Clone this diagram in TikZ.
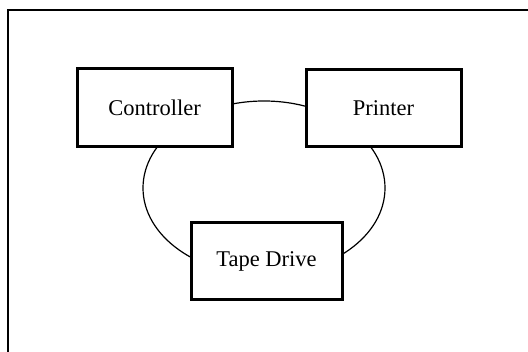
\documentclass[tikz,border=0pt]{standalone}
\usepackage{fontspec}
\setmainfont{Liberation Serif}
\begin{document}
\begin{tikzpicture}[x=1pt,y=-1pt,
  unitbox/.style={draw=black, line width=3pt, fill=white, rectangle, inner sep=0pt,
    font=\fontsize{22.5}{26}\selectfont, anchor=center},
  ring/.style={draw=black, line width=1.2pt},
  frameline/.style={draw=black, line width=2pt}]
\useasboundingbox (0,0) rectangle (528,352);
% outer frame (only top and left edges visible)
\coordinate (fbl) at (8,353);
\coordinate (ftl) at (8,10);
\coordinate (ftr) at (529,10);
\draw[frameline] (fbl) -- (ftl) -- (ftr);
% ring
\coordinate (rc) at (264,188);
\draw[ring] (rc) ellipse [x radius=121pt, y radius=87pt];
% units
\node[unitbox, minimum width=155pt, minimum height=78pt] (ctrl) at (154.5,108) {Controller};
\node[unitbox, minimum width=155pt, minimum height=77pt] (prn) at (383.5,108.5) {Printer};
\node[unitbox, minimum width=151pt, minimum height=77pt] (tape) at (266.5,261.5) {Tape Drive};
\end{tikzpicture}
\end{document}
